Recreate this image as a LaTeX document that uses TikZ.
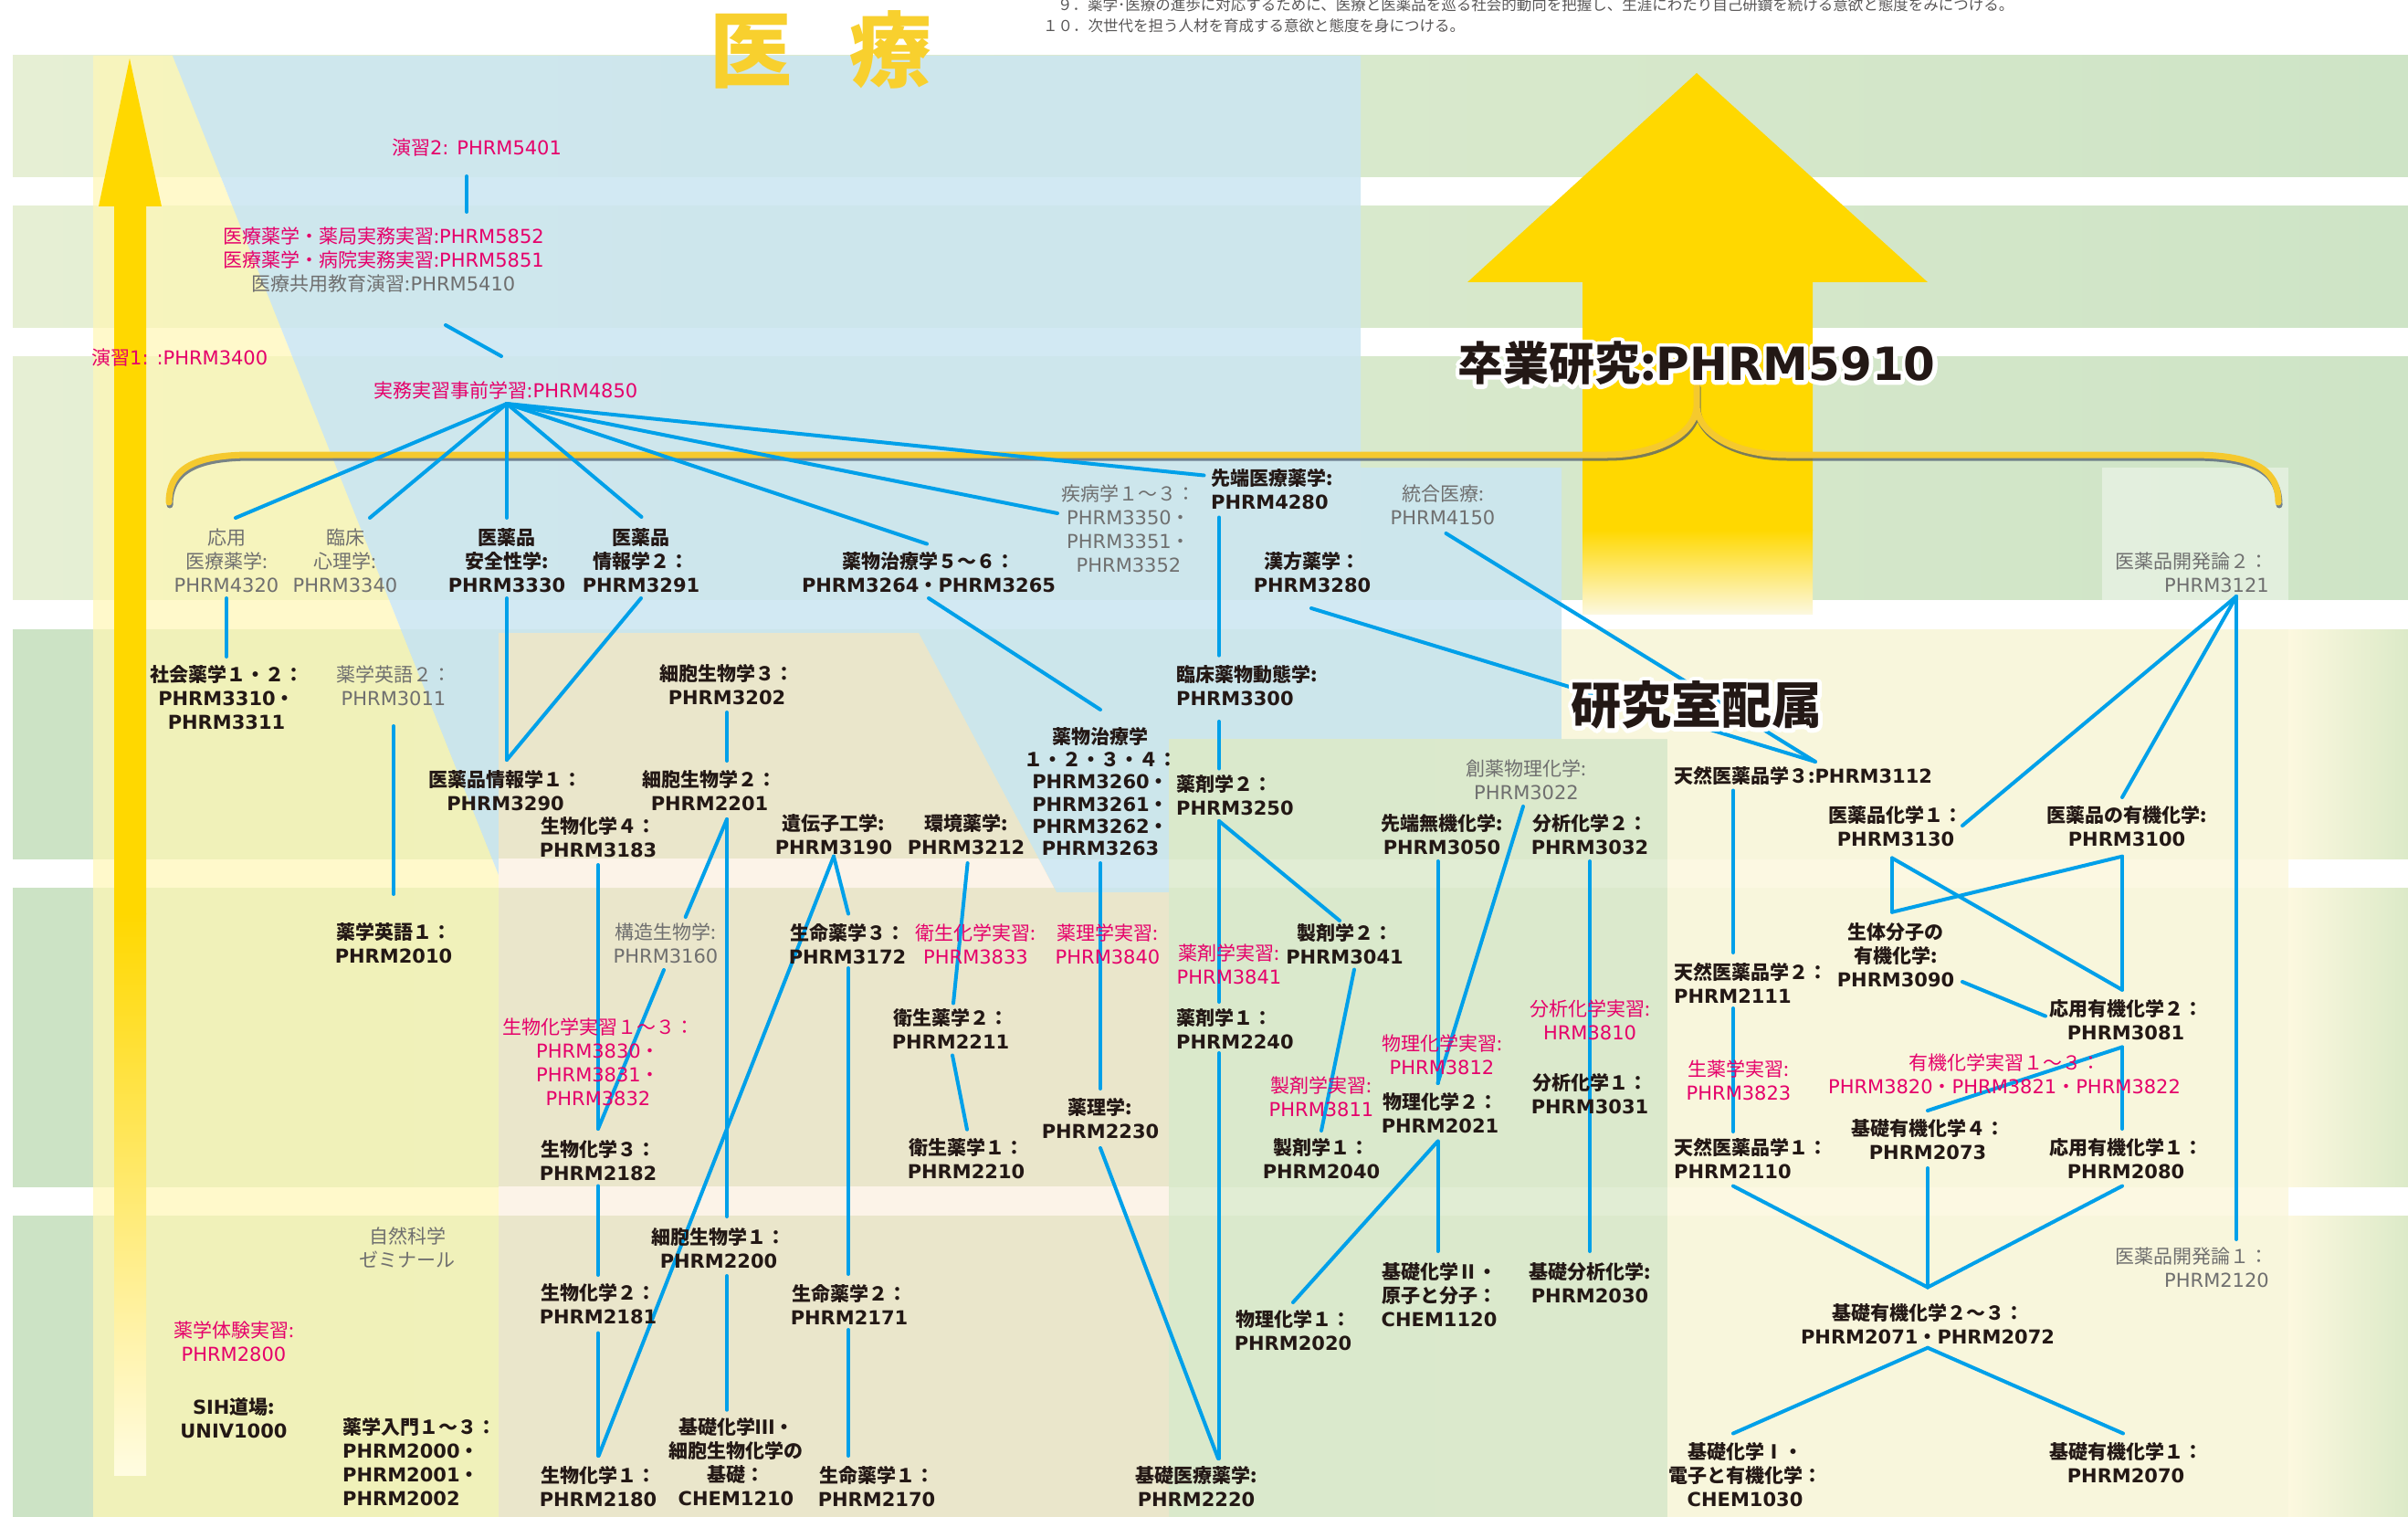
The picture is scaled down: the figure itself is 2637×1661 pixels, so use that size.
\documentclass[tikz,border=0pt]{standalone}
\usepackage{fontspec}
\setmainfont{Noto Sans CJK JP}
\newfontfamily\latn{DejaVu Sans}
\newcommand{\ltn}[1]{{\latn #1}}
\newcommand{\fs}{\fontsize{21}{26}\selectfont}
\newcommand{\halo}[1]{\leavevmode\rlap{\color{white}\special{pdf:literal direct 1 Tr 9 w 1 j}#1\special{pdf:literal direct 0 Tr 1 w}}#1}
\definecolor{bandA}{HTML}{E6EFD4}
\definecolor{bandB}{HTML}{CEE4C6}
\definecolor{bandC}{HTML}{CCE3C5}
\definecolor{bandD}{HTML}{DCEAC8}
\definecolor{beam}{HTML}{FFF7B5}
\definecolor{bluereg}{HTML}{CBE6F2}
\definecolor{beige}{HTML}{EFE7CD}
\definecolor{beigegap}{HTML}{FCF3E8}
\definecolor{greenreg}{HTML}{DCEACD}
\definecolor{cream}{HTML}{FCF8DF}
\definecolor{gold}{HTML}{FFD800}
\definecolor{titlegold}{HTML}{F8D02E}
\definecolor{brgold}{HTML}{F5C92E}
\definecolor{shadowc}{HTML}{4F5E73}
\definecolor{ink}{HTML}{231815}
\definecolor{gry}{HTML}{6F6F6F}
\definecolor{pnk}{HTML}{E5006A}
\definecolor{lineblue}{HTML}{00A0E9}
\definecolor{topgray}{HTML}{595757}
\pgfdeclarelayer{bg}
\pgfdeclarelayer{lines}
\pgfsetlayers{bg,lines,main}
\tikzset{
  lbl/.style={align=center, inner sep=0pt, font=\fs},
  bk/.style={lbl, text=ink, font=\fs\bfseries},
  gy/.style={lbl, text=gry},
  pk/.style={lbl, text=pnk},
  conn/.style={draw=lineblue, line width=4pt, line cap=round},
}
\begin{document}
\begin{tikzpicture}[x=1pt,y=-1pt]
\useasboundingbox (0,0) rectangle (2637,1661);

% ---------- nodes ----------
\node[font=\fontsize{90}{90}\selectfont\bfseries, text=titlegold, inner sep=0] (title) at (898.5,54.5) {医\hspace{63pt}療};
\node[anchor=west, inner sep=0, text=topgray, font=\fontsize{16.5}{20}\selectfont] (obj9) at (1158,5) {９．薬学･医療の進歩に対応するために、医療と医薬品を巡る社会的動向を把握し、生涯にわたり自己研鑽を続ける意欲と態度をみにつける。};
\node[anchor=west, inner sep=0, text=topgray, font=\fontsize{16.5}{20}\selectfont] (obj10) at (1142,28) {１０．次世代を担う人材を育成する意欲と態度を身につける。};

\node[pk] (ensyu2) at (522,161.5) {演習\ltn{2: PHRM5401}};
\node[pk] (iryo) at (420,284.5) {医療薬学・薬局実務実習:\ltn{PHRM5852}\\医療薬学・病院実務実習:\ltn{PHRM5851}\\\textcolor{gry}{医療共用教育演習:\ltn{PHRM5410}}};
\node[pk, anchor=west] (ensyu1) at (100,392) {演習\ltn{1: :PHRM3400}};
\node[pk] (jimu) at (554,427) {実務実習事前学習:\ltn{PHRM4850}};

\node[gy] (ouyou) at (248,614) {応用\\医療薬学:\\\ltn{PHRM4320}};
\node[gy] (rinsho) at (378,614) {臨床\\心理学:\\\ltn{PHRM3340}};
\node[bk] (anzen) at (555,614) {医薬品\\安全性学:\\\ltn{PHRM3330}};
\node[bk] (joho2) at (702,614) {医薬品\\情報学２：\\\ltn{PHRM3291}};
\node[bk] (yaku56) at (1017,627) {薬物治療学５～６：\\\ltn{PHRM3264}・\ltn{PHRM3265}};
\node[gy] (shippei) at (1236,579) {疾病学１～３：\\\ltn{PHRM3350}・\\\ltn{PHRM3351}・\\\ltn{PHRM3352}};
\node[bk, align=left, anchor=west] (sentan) at (1326,535.5) {先端医療薬学:\\\ltn{PHRM4280}};
\node[gy] (togo) at (1580,553) {統合医療:\\\ltn{PHRM4150}};
\node[bk] (kanpo) at (1437,627) {漢方薬学：\\\ltn{PHRM3280}};
\node[gy, align=right, anchor=east] (kaihatsu2) at (2485,627) {医薬品開発論２：\\\ltn{PHRM3121}};

\node[bk] (shakai) at (248,764) {社会薬学１・２：\\\ltn{PHRM3310}・\\\ltn{PHRM3311}};
\node[gy] (eigo2) at (431,751) {薬学英語２：\\\ltn{PHRM3011}};
\node[bk] (saibo3) at (796,750) {細胞生物学３：\\\ltn{PHRM3202}};
\node[bk] (joho1) at (553.5,866) {医薬品情報学１：\\\ltn{PHRM3290}};
\node[bk] (saibo2) at (777,865.5) {細胞生物学２：\\\ltn{PHRM2201}};
\node[bk] (seika4) at (655,917) {生物化学４：\\\ltn{PHRM3183}};
\node[bk] (idenshi) at (913,914) {遺伝子工学:\\\ltn{PHRM3190}};
\node[bk] (kankyo) at (1058,914) {環境薬学:\\\ltn{PHRM3212}};
\node[bk, font=\fontsize{21}{24.4}\selectfont\bfseries] (yaku14) at (1205,867) {薬物治療学\\１・２・３・４：\\\ltn{PHRM3260}・\\\ltn{PHRM3261}・\\\ltn{PHRM3262}・\\\ltn{PHRM3263}};
\node[bk, align=left, anchor=west] (rdotai) at (1288,751) {臨床薬物動態学:\\\ltn{PHRM3300}};
\node[bk, align=left, anchor=west] (yakuzai2) at (1288,871) {薬剤学２：\\\ltn{PHRM3250}};
\node[gy] (souyaku) at (1671.5,854) {創薬物理化学:\\\ltn{PHRM3022}};
\node[bk] (senmuki) at (1579,914) {先端無機化学:\\\ltn{PHRM3050}};
\node[bk] (bunseki2) at (1741,914) {分析化学２：\\\ltn{PHRM3032}};
\node[bk, anchor=west] (tennen3) at (1833,849) {天然医薬品学３:\ltn{PHRM3112}};
\node[bk] (iyaku1) at (2076,904.5) {医薬品化学１：\\\ltn{PHRM3130}};
\node[bk] (iyakuyuki) at (2329,904.5) {医薬品の有機化学:\\\ltn{PHRM3100}};

\node[bk] (eigo1) at (431,1033) {薬学英語１：\\\ltn{PHRM2010}};
\node[gy] (kozo) at (729,1032.5) {構造生物学:\\\ltn{PHRM3160}};
\node[bk] (seimei3) at (928,1034) {生命薬学３：\\\ltn{PHRM3172}};
\node[pk] (eiseij) at (1068.5,1034) {衛生化学実習:\\\ltn{PHRM3833}};
\node[pk] (yakurij) at (1213,1034) {薬理学実習:\\\ltn{PHRM3840}};
\node[pk] (yakuzaij) at (1346,1056) {薬剤学実習:\\\ltn{PHRM3841}};
\node[bk] (seizai2) at (1472.5,1034) {製剤学２：\\\ltn{PHRM3041}};
\node[pk] (seikaj) at (655,1163) {生物化学実習１～３：\\\ltn{PHRM3830}・\\\ltn{PHRM3831}・\\\ltn{PHRM3832}};
\node[bk] (eisei2) at (1041,1126.5) {衛生薬学２：\\\ltn{PHRM2211}};
\node[bk, align=left, anchor=west] (yakuzai1) at (1288,1126.5) {薬剤学１：\\\ltn{PHRM2240}};
\node[pk] (bunsekij) at (1741,1117) {分析化学実習:\\\ltn{HRM3810}};
\node[pk] (butsurij) at (1579,1154.5) {物理化学実習:\\\ltn{PHRM3812}};
\node[bk] (bunseki1) at (1741,1198) {分析化学１：\\\ltn{PHRM3031}};
\node[bk] (butsuri2) at (1577,1219) {物理化学２：\\\ltn{PHRM2021}};
\node[pk] (seizaij) at (1447,1201) {製剤学実習:\\\ltn{PHRM3811}};
\node[bk] (seizai1) at (1447,1269) {製剤学１：\\\ltn{PHRM2040}};
\node[bk] (yakuri) at (1205,1225) {薬理学:\\\ltn{PHRM2230}};
\node[bk] (eisei1) at (1058,1269) {衛生薬学１：\\\ltn{PHRM2210}};
\node[bk] (seika3) at (655,1270.5) {生物化学３：\\\ltn{PHRM2182}};
\node[bk, align=left, anchor=west] (tennen2) at (1833,1076) {天然医薬品学２：\\\ltn{PHRM2111}};
\node[pk] (shoyaku) at (1904,1183) {生薬学実習:\\\ltn{PHRM3823}};
\node[bk, align=left, anchor=west] (tennen1) at (1833,1269) {天然医薬品学１：\\\ltn{PHRM2110}};
\node[bk] (seitai) at (2076,1046) {生体分子の\\有機化学:\\\ltn{PHRM3090}};
\node[bk] (ouyuki2) at (2328,1117) {応用有機化学２：\\\ltn{PHRM3081}};
\node[pk] (yukij) at (2195,1176) {有機化学実習１～３：\\\ltn{PHRM3820}・\ltn{PHRM3821}・\ltn{PHRM3822}};
\node[bk] (kyuki4) at (2111,1248) {基礎有機化学４：\\\ltn{PHRM2073}};
\node[bk] (ouyuki1) at (2328,1269) {応用有機化学１：\\\ltn{PHRM2080}};

\node[gy] (shizen) at (446,1365.5) {自然科学\\ゼミナール};
\node[bk] (saibo1) at (787,1366.5) {細胞生物学１：\\\ltn{PHRM2200}};
\node[bk] (seika2) at (655,1428) {生物化学２：\\\ltn{PHRM2181}};
\node[bk] (seimei2) at (930,1428.5) {生命薬学２：\\\ltn{PHRM2171}};
\node[pk] (taiken) at (256,1469) {薬学体験実習:\\\ltn{PHRM2800}};
\node[bk] (sih) at (256,1553) {\ltn{SIH}道場:\\\ltn{UNIV1000}};
\node[bk, align=left, anchor=west] (nyumon) at (375,1601) {薬学入門１～３：\\\ltn{PHRM2000}・\\\ltn{PHRM2001}・\\\ltn{PHRM2002}};
\node[bk] (seika1) at (655,1628) {生物化学１：\\\ltn{PHRM2180}};
\node[bk] (kiso3) at (806,1601) {基礎化学Ⅲ・\\細胞生物化学の\\基礎：\\\ltn{CHEM1210}};
\node[bk] (seimei1) at (960,1628) {生命薬学１：\\\ltn{PHRM2170}};
\node[bk] (kisoiryo) at (1310,1627.5) {基礎医療薬学:\\\ltn{PHRM2220}};
\node[bk] (butsuri1) at (1416,1457) {物理化学１：\\\ltn{PHRM2020}};
\node[bk] (kiso2) at (1576,1418) {基礎化学Ⅱ・\\原子と分子：\\\ltn{CHEM1120}};
\node[bk] (kisobun) at (1741,1404.5) {基礎分析化学:\\\ltn{PHRM2030}};
\node[gy, align=right, anchor=east] (kaihatsu1) at (2485,1388) {医薬品開発論１：\\\ltn{PHRM2120}};
\node[bk] (kyuki23) at (2111,1449.5) {基礎有機化学２～３：\\\ltn{PHRM2071}・\ltn{PHRM2072}};
\node[bk] (kiso1) at (1911,1614.5) {基礎化学Ⅰ・\\電子と有機化学：\\\ltn{CHEM1030}};
\node[bk] (kyuki1) at (2328,1601.5) {基礎有機化学１：\\\ltn{PHRM2070}};

\node[inner sep=0, text=ink, font=\fontsize{50}{50}\selectfont\bfseries] (sotsu) at (1858,398) {\halo{卒業研究:\ltn{PHRM5910}}};
\node[inner sep=0, text=ink, font=\fontsize{55}{55}\selectfont\bfseries] (kenkyu) at (1858,772) {\halo{研究室配属}};

% ---------- background ----------
\begin{pgfonlayer}{bg}
\fill[white] (0,0) rectangle (2637,1661);
\foreach \a/\b in {61/194,226/359,391/656}
  \shade[left color=bandA, right color=bandB] (14,\a) rectangle (2637,\b);
\foreach \a/\b in {689/940,972/1299,1331/1661}
  \shade[left color=bandC, right color=bandD] (14,\a) rectangle (2637,\b);
\fill[beam, opacity=0.7] (102,61) -- (189,61) -- (546,958) -- (546,1661) -- (102,1661) -- cycle;
\fill[bluereg, opacity=0.85] (189,61) -- (1490,61) -- (1490,512) -- (1710,512) -- (1710,809) -- (1280,809) -- (1280,977) -- (1157,977) -- (1006,693) -- (546,693) -- (546,958) -- cycle;
\fill[beige, opacity=0.85] (546,693) -- (1006,693) -- (1157,977) -- (1280,977) -- (1280,1661) -- (546,1661) -- cycle;
\fill[beigegap] (546,940) -- (1137,940) -- (1154,972) -- (546,972) -- cycle;
\fill[beigegap] (546,1299) rectangle (1280,1331);
\fill[greenreg, opacity=0.85] (1280,809) rectangle (1826,1661);
\fill[cream, opacity=0.9] (1710,689) -- (2506,689) -- (2506,1661) -- (1826,1661) -- (1826,809) -- (1710,809) -- cycle;
\foreach \a/\b in {689/940,972/1299,1331/1661}
  \shade[left color=cream, right color=bandD] (2506,\a) rectangle (2637,\b);
\fill[white, opacity=0.4] (2302,512) rectangle (2506,689);
% left arrow
\fill[gold] (142,64) -- (177,226) -- (160,226) -- (160,1001) -- (125,1001) -- (125,226) -- (108,226) -- cycle;
\shade[top color=gold, bottom color=beam!40!white] (125,1000) rectangle (160,1615);
% big arrow
\fill[gold] (1858,80) -- (2111,309) -- (1985,309) -- (1985,581) -- (1733,581) -- (1733,309) -- (1607,309) -- cycle;
\shade[top color=gold, bottom color=cream] (1733,580) rectangle (1985,672);
\end{pgfonlayer}

% ---------- bracket and connectors ----------
\begin{pgfonlayer}{lines}
\foreach \c/\dx/\dy/\op in {shadowc/1/3/0.75, brgold/0/0/1}
  \draw[\c, opacity=\op, line width=7pt, line cap=round, shift={(\dx,\dy)}]
    (185,550) .. controls (185,512) and (215,498) .. (275,498) -- (1760,498)
    .. controls (1810,498) and (1856,478) .. (1858,445) -- (1858,421)
    (1858,445) .. controls (1860,478) and (1906,498) .. (1956,498) -- (2400,498)
    .. controls (2465,498) and (2495,512) .. (2495,550);

\draw[conn] ([shift={(-11,31.5)}]ensyu2.center) -- ([shift={(91,-52.5)}]iryo.center);
\draw[conn] ([shift={(68,71.5)}]iryo.center) -- ([shift={(-5,-37)}]jimu.center);
\draw[conn] ([shift={(1,15)}]jimu.center) -- ([shift={(10,-47)}]ouyou.center);
\draw[conn] ([shift={(1,15)}]jimu.center) -- ([shift={(27,-47)}]rinsho.center);
\draw[conn] ([shift={(1,15)}]jimu.center) -- ([shift={(0,-47)}]anzen.center);
\draw[conn] ([shift={(1,15)}]jimu.center) -- ([shift={(0.5,-48)}]joho2.center);
\draw[conn] ([shift={(1,15)}]jimu.center) -- ([shift={(-2,-31.5)}]yaku56.center);
\draw[conn] ([shift={(1,15)}]jimu.center) -- ([shift={(-78,-17)}]shippei.center);
\draw[conn] ([shift={(1,15)}]jimu.center) -- ([shift={(-7.5,-15)}]sentan.west);
\draw[conn] ([shift={(0,41)}]ouyou.center) -- ([shift={(0,-45)}]shakai.center);
\draw[conn] ([shift={(0,44)}]eigo2.center) -- ([shift={(0,-54)}]eigo1.center);
\draw[conn] ([shift={(0,41)}]anzen.center) -- ([shift={(1.5,-34)}]joho1.center);
\draw[conn] ([shift={(0,41)}]joho2.center) -- ([shift={(1.5,-34)}]joho1.center);
\draw[conn] ([shift={(0,30)}]saibo3.center) -- ([shift={(19,-32.5)}]saibo2.center);
\draw[conn] ([shift={(19,31.5)}]saibo2.center) -- ([shift={(21.7,-28.5)}]kozo.center);
\draw[conn] ([shift={(19,31.5)}]saibo2.center) -- ([shift={(9,-34.5)}]saibo1.center);
\draw[conn] ([shift={(-2,29.5)}]kozo.center) -- ([shift={(0,-34.5)}]seika3.center);
\draw[conn] ([shift={(0,30)}]seika4.center) -- ([shift={(0,-34.5)}]seika3.center);
\draw[conn] ([shift={(0,28)}]seika3.center) -- ([shift={(0,-32)}]seika2.center);
\draw[conn] ([shift={(0,31.6)}]seika2.center) -- ([shift={(0,-34)}]seika1.center);
\draw[conn] ([shift={(0,23.6)}]idenshi.center) -- ([shift={(1,-33.5)}]seimei3.center);
\draw[conn] ([shift={(0,23.6)}]idenshi.center) -- ([shift={(0.6,-34)}]seika1.center);
\draw[conn] ([shift={(1,26)}]seimei3.center) -- ([shift={(-1,-33.5)}]seimei2.center);
\draw[conn] ([shift={(-1,27.5)}]seimei2.center) -- ([shift={(-31,-34)}]seimei1.center);
\draw[conn] ([shift={(1.6,31)}]kankyo.center) -- ([shift={(3,-28)}]eisei2.center);
\draw[conn] ([shift={(2,29)}]eisei2.center) -- ([shift={(1,-32.3)}]eisei1.center);
\draw[conn] ([shift={(0,28)}]yaku56.center) -- ([shift={(0,-90)}]yaku14.center);
\draw[conn] ([shift={(0,78)}]yaku14.center) -- ([shift={(0,-33)}]yakuri.center);
\draw[conn] ([shift={(0,32)}]yakuri.center) -- ([shift={(24,-30.5)}]kisoiryo.center);
\draw[conn] ([shift={(9,31)}]sentan.west) -- ([shift={(47,-33.4)}]rdotai.west);
\draw[conn] ([shift={(47,39)}]rdotai.west) -- ([shift={(47,-29.5)}]yakuzai2.west);
\draw[conn] ([shift={(47,28)}]yakuzai2.west) -- ([shift={(47,-29.5)}]yakuzai1.west);
\draw[conn] ([shift={(47,28)}]yakuzai2.west) -- ([shift={(-5.5,-26)}]seizai2.center);
\draw[conn] ([shift={(47,26.5)}]yakuzai1.west) -- ([shift={(25,-30.5)}]kisoiryo.center);
\draw[conn] ([shift={(10.5,27.6)}]seizai2.center) -- ([shift={(0,-31)}]seizai1.center);
\draw[conn] ([shift={(3.5,31)}]togo.center) -- ([shift={(155,-15)}]tennen3.west);
\draw[conn] ([shift={(-1,39)}]kanpo.center) -- ([shift={(155,-15)}]tennen3.west);
\draw[conn] ([shift={(-3.5,29)}]souyaku.center) -- ([shift={(-2.5,-33)}]butsuri2.center);
\draw[conn] ([shift={(-4.5,29)}]senmuki.center) -- ([shift={(-2.5,-33)}]butsuri2.center);
\draw[conn] ([shift={(-2.5,30.6)}]butsuri2.center) -- ([shift={(-1.5,-48)}]kiso2.center);
\draw[conn] ([shift={(-2.5,30.6)}]butsuri2.center) -- ([shift={(0,-31)}]butsuri1.center);
\draw[conn] ([shift={(0,29)}]bunseki2.center) -- ([shift={(0,-34.5)}]kisobun.center);
\draw[conn] ([shift={(65,16.5)}]tennen3.west) -- ([shift={(65,-33)}]tennen2.west);
\draw[conn] ([shift={(65,28)}]tennen2.west) -- ([shift={(65,-30)}]tennen1.west);
\draw[conn] ([shift={(65,29.6)}]tennen1.west) -- ([shift={(0,-40)}]kyuki23.center);
\draw[conn] ([shift={(-36,26)}]kaihatsu2.east) -- ([shift={(73,-0.5)}]iyaku1.center);
\draw[conn] ([shift={(-36,26)}]kaihatsu2.east) -- ([shift={(-5,-31.5)}]iyakuyuki.center);
\draw[conn] ([shift={(-36,26)}]kaihatsu2.east) -- ([shift={(-36,-31)}]kaihatsu1.east);
\draw[conn] ([shift={(-4,35)}]iyaku1.center) -- ([shift={(-4,-47.3)}]seitai.center);
\draw[conn] ([shift={(-4,-47.3)}]seitai.center) -- ([shift={(-5,33.2)}]iyakuyuki.center);
\draw[conn] ([shift={(-4,35)}]iyaku1.center) -- ([shift={(-4,-33.2)}]ouyuki2.center);
\draw[conn] ([shift={(-5,33.2)}]iyakuyuki.center) -- ([shift={(-4,-33.2)}]ouyuki2.center);
\draw[conn] ([shift={(73,29)}]seitai.center) -- ([shift={(-88,-4.4)}]ouyuki2.center);
\draw[conn] ([shift={(-4,29.5)}]ouyuki2.center) -- ([shift={(-4,-33)}]ouyuki1.center);
\draw[conn] ([shift={(-4,29.5)}]ouyuki2.center) -- ([shift={(0,-32)}]kyuki4.center);
\draw[conn] ([shift={(0,31)}]kyuki4.center) -- ([shift={(0,-40)}]kyuki23.center);
\draw[conn] ([shift={(-4,29.6)}]ouyuki1.center) -- ([shift={(0,-40)}]kyuki23.center);
\draw[conn] ([shift={(0,26.2)}]kyuki23.center) -- ([shift={(-13,-45)}]kiso1.center);
\draw[conn] ([shift={(0,26.2)}]kyuki23.center) -- ([shift={(-3,-32)}]kyuki1.center);
\draw[conn] ([shift={(9,30.5)}]saibo1.center) -- ([shift={(-10,-57.3)}]kiso3.center);
\end{pgfonlayer}
\end{tikzpicture}
\end{document}
